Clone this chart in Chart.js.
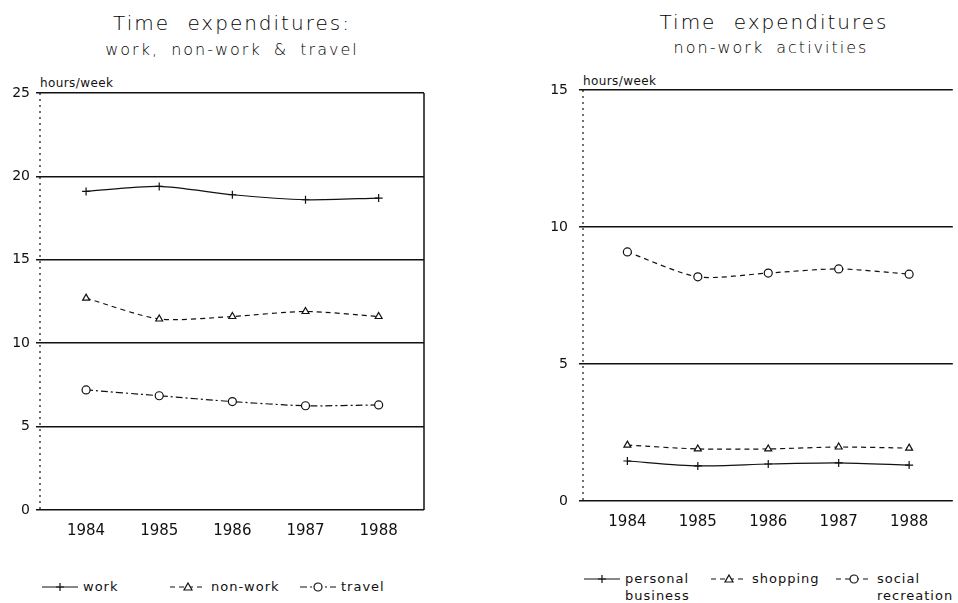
<!DOCTYPE html>
<html>
<head>
<meta charset="utf-8">
<script src="https://cdn.jsdelivr.net/npm/chart.js@4.4.1/dist/chart.umd.min.js"></script>
<style>
body { margin: 0; background: #fff; width: 958px; height: 603px; overflow: hidden; position: relative;
       font-family: "DejaVu Sans", "Liberation Sans", sans-serif; color: #111; }
.t { position: absolute; white-space: nowrap; transform: translateX(-50%); font-weight: 200; color: #000; }
.tit { font-size: 20px; letter-spacing: 2px; word-spacing: 9px; }
.sub { font-size: 16px; letter-spacing: 2px; word-spacing: 5px; }
.un { position: absolute; font-size: 12px; letter-spacing: 0.4px; white-space: nowrap; }
.leg { position: absolute; font-size: 13px; letter-spacing: 1px; white-space: nowrap; line-height: 17px; }
.leg svg { position: absolute; left: 0; top: 2px; }
.leg span { position: absolute; top: 0; }
canvas { position: absolute; }
</style>
</head>
<body>

<div class="t tit" style="left:232px; top:11px">Time expenditures:</div>
<div class="t sub" style="left:232px; top:40px">work, non-work &amp; travel</div>
<div class="t tit" style="left:774px; top:10px">Time expenditures</div>
<div class="t sub" style="left:771px; top:38px">non-work activities</div>

<div class="un" style="left:40px; top:76px">hours/week</div>
<div class="un" style="left:583px; top:74px">hours/week</div>

<canvas id="graficoTrabalho" width="450" height="480" style="left:0; top:60px"></canvas>
<canvas id="graficoAtividades" width="415" height="471" style="left:543px; top:60px"></canvas>

<div id="legendas"></div>

<script>
// Dados (horas por semana)
const anos = [1984, 1985, 1986, 1987, 1988];

const trabalho = [19.1, 19.4, 18.9, 18.6, 18.7];
const naoTrabalho = [12.7, 11.45, 11.6, 11.9, 11.6];
const viagem = [7.2, 6.85, 6.5, 6.25, 6.3];

const negociosPessoais = [1.46, 1.28, 1.35, 1.39, 1.31];
const compras = [2.04, 1.9, 1.9, 1.97, 1.93];
const recreacaoSocial = [9.09, 8.18, 8.32, 8.47, 8.28];

const ticksEsquerda = [0, 5, 10, 15, 20, 25];
const ticksDireita = [0, 5, 10, 15];

const cor = '#111';

// Eixo esquerdo pontilhado e borda direita opcional
const bordas = {
    id: 'bordas',
    afterDraw(chart, args, opts) {
        const { ctx, chartArea } = chart;
        ctx.save();
        ctx.strokeStyle = cor;
        ctx.lineWidth = 1.2;
        ctx.setLineDash([2, 4]);
        ctx.beginPath();
        ctx.moveTo(chartArea.left, chartArea.top);
        ctx.lineTo(chartArea.left, chartArea.bottom);
        ctx.stroke();
        if (opts.direita) {
            ctx.setLineDash([]);
            ctx.lineWidth = 1.5;
            ctx.beginPath();
            ctx.moveTo(chartArea.right, chartArea.top);
            ctx.lineTo(chartArea.right, chartArea.bottom);
            ctx.stroke();
        }
        ctx.restore();
    }
};

function serie(label, valores, tracejado, marcador) {
    return {
        label: label,
        data: anos.map((a, i) => ({ x: a, y: valores[i] })),
        borderColor: cor,
        borderWidth: 1.2,
        borderDash: tracejado,
        pointStyle: marcador,
        pointRadius: 4,
        pointBackgroundColor: '#fff',
        pointBorderColor: cor,
        pointBorderWidth: 1.2,
        tension: 0.25,
        fill: false,
    };
}

function criarGrafico(id, series, ticksY, padding, comBorda, recuoY) {
    const ctx = document.getElementById(id).getContext('2d');
    new Chart(ctx, {
        type: 'line',
        data: { datasets: series },
        plugins: [bordas],
        options: {
            responsive: false,
            animation: false,
            layout: { padding: padding },
            plugins: {
                legend: { display: false },
                tooltip: { enabled: false },
                bordas: { direita: comBorda },
            },
            scales: {
                x: {
                    type: 'linear',
                    min: 1983.37,
                    max: 1988.62,
                    afterBuildTicks: s => { s.ticks = anos.map(v => ({ value: v })); },
                    afterFit: s => { s.height = 30; },
                    ticks: {
                        callback: v => String(v),
                        color: cor,
                        font: { family: 'DejaVu Sans', size: 15 },
                        padding: 4,
                        maxRotation: 0,
                        autoSkip: false,
                    },
                    grid: { display: false },
                    border: { display: false },
                },
                y: {
                    min: ticksY[0],
                    max: ticksY[ticksY.length - 1],
                    afterBuildTicks: s => { s.ticks = ticksY.map(v => ({ value: v })); },
                    afterFit: s => { s.width = 40; },
                    ticks: {
                        color: cor,
                        font: { family: 'DejaVu Sans', size: 14 },
                        padding: recuoY,
                    },
                    grid: { color: cor, lineWidth: 1.5, tickLength: 4 },
                    border: { display: false },
                },
            },
        },
    });
}

criarGrafico('graficoTrabalho', [
    serie('work', trabalho, [], 'cross'),
    serie('non-work', naoTrabalho, [5, 4], 'triangle'),
    serie('travel', viagem, [7, 3, 2, 3], 'circle'),
], ticksEsquerda, { top: 33, right: 26, left: 0, bottom: 0 }, true, 6);

criarGrafico('graficoAtividades', [
    serie('personal business', negociosPessoais, [], 'cross'),
    serie('shopping', compras, [5, 4], 'triangle'),
    serie('social recreation', recreacaoSocial, [5, 4], 'circle'),
], ticksDireita, { top: 30, right: 0, left: 0, bottom: 0 }, false, 11);

// Legendas em HTML com amostra de linha e marcador
function amostra(tracejado, marcador) {
    let m = '';
    if (marcador === 'cross') m = '<path d="M18 3 V11 M14 7 H22" stroke="#111" stroke-width="1.2"/>';
    if (marcador === 'triangle') m = '<path d="M18 3 L22 10 L14 10 Z" fill="#fff" stroke="#111" stroke-width="1.2"/>';
    if (marcador === 'circle') m = '<circle cx="18" cy="7" r="4" fill="#fff" stroke="#111" stroke-width="1.2"/>';
    return '<svg width="36" height="14"><line x1="0" y1="7" x2="36" y2="7" stroke="#111" stroke-width="1.2"' +
        (tracejado ? ' stroke-dasharray="' + tracejado + '"' : '') + '/>' + m + '</svg>';
}

const itensLegenda = [
    { x: 42, y: 578, texto: 'work', dash: '', m: 'cross' },
    { x: 170, y: 578, texto: 'non-work', dash: '5 4', m: 'triangle' },
    { x: 300, y: 578, texto: 'travel', dash: '7 3 2 3', m: 'circle' },
    { x: 584, y: 570, texto: 'personal<br>business', dash: '', m: 'cross' },
    { x: 711, y: 570, texto: 'shopping', dash: '5 4', m: 'triangle' },
    { x: 836, y: 570, texto: 'social<br>recreation', dash: '5 4', m: 'circle' },
];

const caixa = document.getElementById('legendas');
itensLegenda.forEach(it => {
    const d = document.createElement('div');
    d.className = 'leg';
    d.style.left = it.x + 'px';
    d.style.top = it.y + 'px';
    d.innerHTML = amostra(it.dash, it.m) + '<span style="left:41px">' + it.texto + '</span>';
    caixa.appendChild(d);
});
</script>
</body>
</html>
